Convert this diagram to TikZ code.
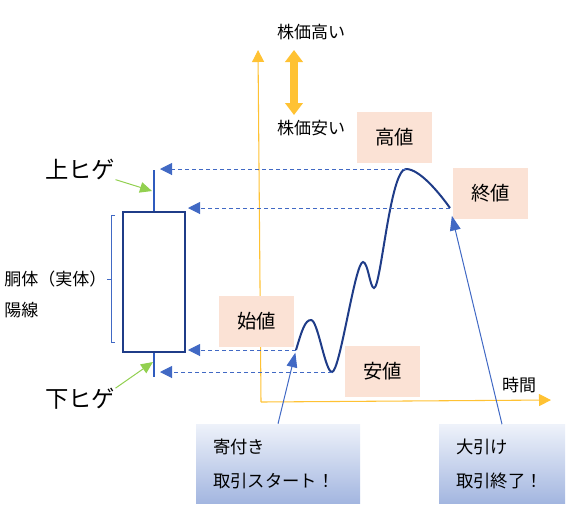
\documentclass[tikz,border=0pt]{standalone}
\usepackage{fontspec}
\setmainfont{Noto Sans CJK JP}
\usetikzlibrary{arrows.meta,positioning}
\definecolor{navy}{HTML}{1F3C88}
\definecolor{wickblue}{HTML}{2F5BBE}
\definecolor{dashblue}{HTML}{4169C4}
\definecolor{amber}{HTML}{FFC233}
\definecolor{leaf}{HTML}{92D050}
\definecolor{peach}{HTML}{FBE2D5}
\definecolor{mist}{HTML}{EEF2FA}
\definecolor{steel}{HTML}{A3B6E0}
\tikzset{
  note/.style={inner sep=0pt, font=\fontsize{12.75pt}{15pt}\selectfont},
  wicklabel/.style={inner sep=0pt, font=\fontsize{17.5pt}{20pt}\selectfont},
  valbox/.style={fill=peach, minimum width=56.25pt, minimum height=38.25pt, font=\fontsize{14.5pt}{17pt}\selectfont},
  callbox/.style={top color=mist, bottom color=steel, align=left, inner xsep=12.75pt,
    minimum height=59.25pt, font=\fontsize{13pt}{25.5pt}\selectfont},
  dasharrow/.style={dashblue, line width=0.75pt, dash pattern=on 3pt off 2.25pt, -{Triangle[length=9pt,width=9pt]}},
  callarrow/.style={dashblue, line width=0.75pt, -{Triangle[length=11pt,width=8pt]}},
  greenarrow/.style={leaf, line width=0.75pt, -{Triangle[length=9pt,width=8pt]}},
  axisarrow/.style={amber, line width=0.8pt, -{Triangle[length=9pt,width=9pt]}}
}
\begin{document}
\begin{tikzpicture}[x=0.75pt,y=-0.75pt]
\useasboundingbox (0,0) rectangle (574,515);
% price and time axes
\coordinate (origin) at (261,402);
\coordinate (ytip) at (258,50);
\coordinate (xtip) at (551,400);
\draw[axisarrow] (origin) -- (ytip);
\draw[axisarrow] (origin) -- (xtip);
\node[note] (jikan) at (519,385) {時間};
\node[note] (kabutaka) at (311,32) {株価高い};
\node[note] (kabuyasu) at (311,128) {株価安い};
\coordinate (uptip) at (294,50);
\coordinate (dntip) at (294,115);
\draw[amber, line width=6pt, {Triangle[length=9pt,width=13pt]}-{Triangle[length=9pt,width=13pt]}] (uptip) -- (dntip);
% candle
\node[draw=navy, line width=1.5pt, minimum width=46.5pt, minimum height=105pt, inner sep=0pt] (body) at (154,282) {};
\coordinate (wicktop) at (154,170);
\coordinate (wickbot) at (154,377);
\draw[wickblue, line width=1.5pt] (body.north) -- (wicktop);
\draw[wickblue, line width=1.5pt] (body.south) -- (wickbot);
\draw[dashblue, line width=0.6pt] (115,215) -- (111,215) -- (111,342) -- (115,342);
\draw[dashblue, line width=0.6pt] (111,279) -- (107,279);
\node[note, anchor=west] (dotai) at (4,279) {胴体（実体）};
\node[note, below=23.25pt of dotai.west, anchor=west] (yosen) {陽線};
\node[wicklabel, anchor=west] (uwick) at (45,169) {上ヒゲ};
\node[wicklabel, anchor=west] (lwick) at (45,399) {下ヒゲ};
\coordinate (utip) at (152,191);
\coordinate (ltip) at (153,362);
\draw[greenarrow] (uwick.south east) -- (utip);
\draw[greenarrow] (lwick.north east) -- (ltip);
% value labels
\foreach \name/\x/\y/\txt in {takane/394.5/137/高値, owarine/490.5/193.5/終値, hajimene/256.5/321/始値, yasune/382.5/371/安値}
  \node[valbox] (\name) at (\x,\y) {\txt};
% price path
\coordinate (op) at (296,350);
\coordinate (lo) at (332,372);
\coordinate (hi) at (406,169);
\coordinate (cl) at (450,208);
\draw[navy, line width=1.5pt] (op) .. controls (302,330) and (305,320) .. (311,320)
  .. controls (318,320) and (325,372) .. (lo)
  .. controls (340,372) and (355,262) .. (363,262)
  .. controls (368,262) and (370,288) .. (374,288)
  .. controls (381,288) and (390,169) .. (hi)
  .. controls (420,169) and (440,194) .. (cl);
\draw[dasharrow, shorten >=4.5pt] (hi) -- (hi -| wicktop);
\draw[dasharrow, shorten >=1.5pt] (cl) -- (cl -| body.east);
\draw[dasharrow, shorten >=1.5pt] (op) -- (op -| body.east);
\draw[dasharrow, shorten >=4.5pt] (lo) -- (lo -| wickbot);
% callouts
\node[callbox, text width=97.5pt] (yori) at (278,463.5) {寄付き\\取引スタート！};
\node[callbox, text width=69pt] (ohike) at (502,464) {大引け\\取引終了！};
\draw[callarrow, shorten >=2pt] (yori.north) -- (op);
\draw[callarrow, shorten >=6pt] (ohike.north) -- (cl);
\end{tikzpicture}
\end{document}
